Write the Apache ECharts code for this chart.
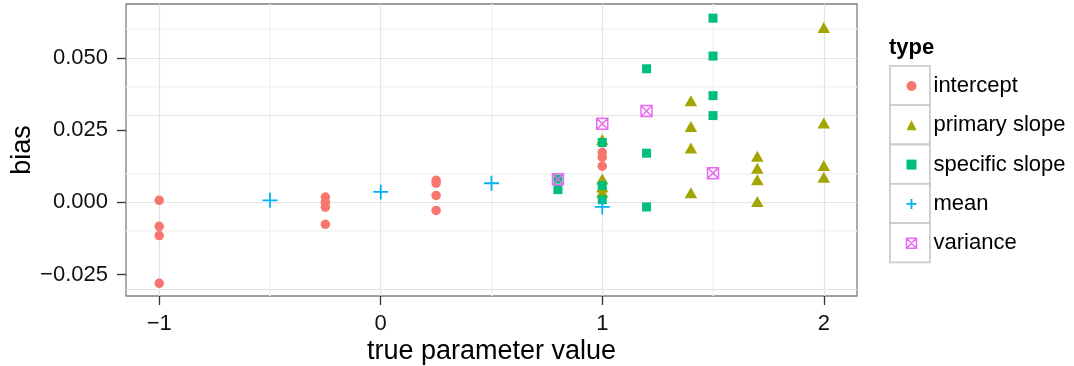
<!DOCTYPE html>
<html><head><meta charset="utf-8">
<script src="https://cdn.jsdelivr.net/npm/echarts@6/dist/echarts.min.js"></script>
<style>html,body{margin:0;padding:0;background:#fff}#c{width:1074px;height:366px}</style>
</head><body><div id="c"></div><script>
// ---- data ----
const seriesNames = ['intercept', 'primary slope', 'specific slope', 'mean', 'variance'];
const intercept = [
  [-1, 0.0007], [-1, -0.0083], [-1, -0.0115], [-1, -0.0280],
  [-0.25, 0.0018], [-0.25, 0.0000], [-0.25, -0.0017], [-0.25, -0.0076],
  [0.25, 0.0076], [0.25, 0.0066], [0.25, 0.0024], [0.25, -0.0028],
  [1, 0.0173], [1, 0.0156], [1, 0.0125]
];
const primarySlope = [
  [1, 0.0217], [1, 0.0081], [1, 0.0053], [1, 0.0035],
  [1.4, 0.0351], [1.4, 0.0262], [1.4, 0.0188], [1.4, 0.0033],
  [1.7, 0.0159], [1.7, 0.0118], [1.7, 0.0078], [1.7, 0.0003],
  [2, 0.0605], [2, 0.0274], [2, 0.0127], [2, 0.0087]
];
const specificSlope = [
  [0.8, 0.0080], [0.8, 0.0044],
  [1, 0.0207], [1, 0.0058], [1, 0.0009],
  [1.2, 0.0462], [1.2, 0.0170], [1.2, -0.0016],
  [1.5, 0.0637], [1.5, 0.0506], [1.5, 0.0369], [1.5, 0.0300]
];
const meanPts = [[-0.5, 0.0007], [0, 0.0036], [0.5, 0.0066], [1, -0.0016]];
const variancePts = [[0.8, 0.0080], [1, 0.0272], [1.2, 0.0316], [1.5, 0.0101]];

const xTicks = [-1, 0, 1, 2];
const xMinor = [-0.5, 0.5, 1.5];
const yTicks = [-0.025, 0, 0.025, 0.05];
const yMinor = [-0.0125, 0.0125, 0.0375, 0.0625];

// ---- styling ----
const FONT = 'Liberation Sans, Arial, Helvetica, sans-serif';
const colors = ['#F8766D', '#A3A500', '#00BF7D', '#00B0F6', '#E76BF3'];
const PLUS = 'path://M5,0 L5,10 M0,5 L10,5';
const BOXX = 'path://M0,0 L10,0 L10,10 L0,10 Z M0,0 L10,10 M10,0 L0,10';
const minus = s => s.replace('-', '\u2212');

const gridLines = []
  .concat(xMinor.map(v => ({ xAxis: v, lineStyle: { color: '#F3F3F3', width: 1.5, type: 'solid' } })))
  .concat(yMinor.map(v => ({ yAxis: v, lineStyle: { color: '#F3F3F3', width: 1.5, type: 'solid' } })))
  .concat(xTicks.map(v => ({ xAxis: v, lineStyle: { color: '#E3E3E3', width: 1.2, type: 'solid' } })))
  .concat(yTicks.map(v => ({ yAxis: v, lineStyle: { color: '#E3E3E3', width: 1.2, type: 'solid' } })));

const chart = echarts.init(document.getElementById('c'), null, { renderer: 'canvas' });
chart.setOption({
  animation: false,
  backgroundColor: '#fff',
  textStyle: { fontFamily: FONT },
  title: {
    text: 'type', left: 889, top: 37, padding: 0,
    textStyle: { fontFamily: FONT, fontSize: 22, fontWeight: 'bold', color: '#000', lineHeight: 22 }
  },
  graphic: [0, 1, 2, 3, 4].map(i => ({
    type: 'rect', left: 889, top: 65 + i * 39.3, z: 0,
    shape: { width: 40, height: 39.3 },
    style: { fill: '#fff', stroke: '#CCCCCC', lineWidth: 1.8 }
  })),
  legend: {
    orient: 'vertical', left: 904, top: 75, padding: 0,
    itemWidth: 10, itemHeight: 10, itemGap: 17.3, symbolKeepAspect: true,
    textStyle: { fontFamily: FONT, fontSize: 22, color: '#000', lineHeight: 22, padding: [0, 0, 0, 12] },
    data: [
      { name: 'intercept' },
      { name: 'primary slope' },
      { name: 'specific slope' },
      { name: 'mean', itemStyle: { color: 'none', borderColor: colors[3], borderWidth: 1.8 } },
      { name: 'variance', itemStyle: { color: 'none', borderColor: colors[4], borderWidth: 1.5 } }
    ]
  },
  grid: {
    left: 126, top: 4, width: 731, height: 292, containLabel: false, outerBoundsMode: 'none',
    show: true, backgroundColor: '#fff', borderColor: '#7F7F7F', borderWidth: 1.3
  },
  xAxis: {
    type: 'value', min: -1.15, max: 2.15,
    splitLine: { show: false },
    axisLine: { show: false, onZero: false },
    axisTick: { show: true, customValues: xTicks, length: 9, lineStyle: { color: '#333', width: 1.3 } },
    axisLabel: {
      customValues: xTicks, margin: 17, fontSize: 22, color: '#111', fontFamily: FONT,
      formatter: v => minus(String(v))
    },
    name: 'true parameter value', nameLocation: 'middle', nameGap: 42, nameMoveOverlap: false,
    nameTextStyle: { fontSize: 27, color: '#000', fontFamily: FONT, lineHeight: 27 }
  },
  yAxis: {
    type: 'value', min: -0.0324, max: 0.0686,
    splitLine: { show: false },
    axisLine: { show: false, onZero: false },
    axisTick: { show: true, customValues: yTicks, length: 9, lineStyle: { color: '#333', width: 1.3 } },
    axisLabel: {
      customValues: yTicks, margin: 18, fontSize: 22, color: '#111', fontFamily: FONT,
      formatter: v => minus(v.toFixed(3))
    },
    name: 'bias', nameLocation: 'middle', nameGap: 90, nameMoveOverlap: false,
    nameTextStyle: { fontSize: 27, color: '#000', fontFamily: FONT, lineHeight: 27 }
  },
  series: [
    {
      type: 'scatter', name: '_grid', data: [], z: 1, silent: true,
      markLine: { silent: true, z: 1, symbol: 'none', label: { show: false }, animation: false, data: gridLines }
    },
    { type: 'scatter', name: seriesNames[0], data: intercept, symbol: 'circle', symbolSize: 9.5, z: 3,
      itemStyle: { color: colors[0], opacity: 1 } },
    { type: 'scatter', name: seriesNames[1], data: primarySlope, symbol: 'triangle', symbolSize: [12.5, 11], z: 3,
      itemStyle: { color: colors[1], opacity: 1 } },
    { type: 'scatter', name: seriesNames[2], data: specificSlope, symbol: 'rect', symbolSize: 9, z: 3,
      itemStyle: { color: colors[2], opacity: 1 } },
    { type: 'scatter', name: seriesNames[3], data: meanPts, symbol: PLUS, symbolSize: 15, z: 3,
      itemStyle: { color: 'none', borderColor: colors[3], borderWidth: 1.8, opacity: 1 } },
    { type: 'scatter', name: seriesNames[4], data: variancePts, symbol: BOXX, symbolSize: 11, z: 3,
      itemStyle: { color: 'none', borderColor: colors[4], borderWidth: 1.5, opacity: 1 } }
  ]
});
</script></body></html>
